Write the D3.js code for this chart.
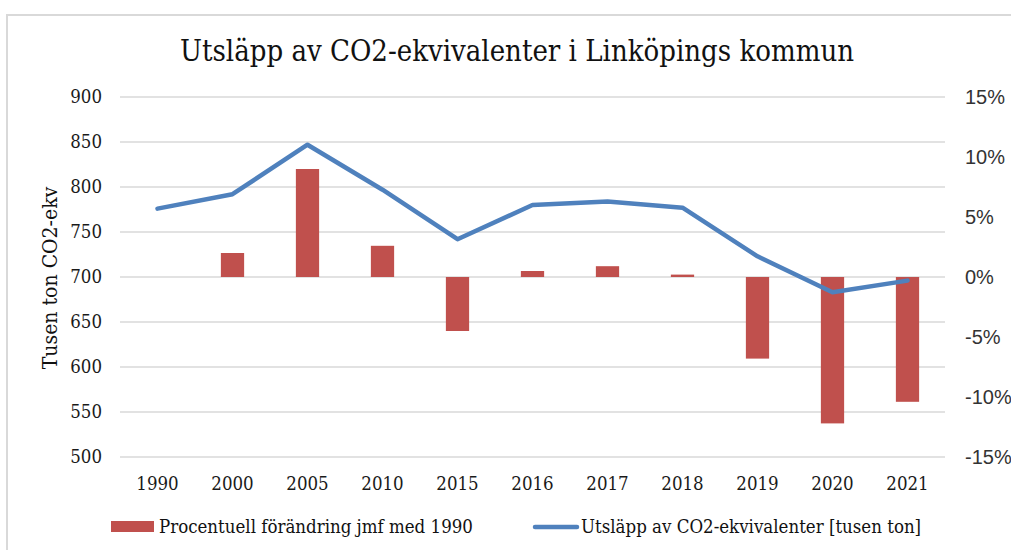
<!DOCTYPE html>
<html>
<head>
<meta charset="utf-8">
<script src="https://cdn.jsdelivr.net/npm/d3@7"></script>
<style>
  html, body { margin: 0; padding: 0; background: #fff; }
  svg { display: block; }
</style>
</head>
<body>
<svg id="chart" width="1011" height="550"></svg>
<script>
const years = ["1990","2000","2005","2010","2015","2016","2017","2018","2019","2020","2021"];
const emissions = [776, 792, 847, 797, 742, 780, 784, 777, 723, 683, 696];
const pctChange = [0, 2.0, 9.0, 2.6, -4.5, 0.5, 0.9, 0.2, -6.8, -12.2, -10.4];
const leftTicks = [500, 550, 600, 650, 700, 750, 800, 850, 900];
const rightTicks = [-15, -10, -5, 0, 5, 10, 15];
const titleText = "Utsläpp av CO2-ekvivalenter i Linköpings kommun";
const yTitle = "Tusen ton CO2-ekv";
const legendBar = "Procentuell förändring jmf med 1990";
const legendLine = "Utsläpp av CO2-ekvivalenter [tusen ton]";

const svg = d3.select("#chart");
const serif = "'DejaVu Serif Condensed', 'DejaVu Serif', serif";
const sans = "'Liberation Sans', Arial, sans-serif";

const m = {left: 120, right: 945, top: 97, bottom: 457};

// frame
svg.append("path")
  .attr("d", "M7,550 V15 H1011")
  .attr("fill", "none").attr("stroke", "#d9d9d9").attr("stroke-width", 2);

const x = d3.scaleBand().domain(years).range([m.left, m.right]).paddingInner(0.69).paddingOuter(0.345);
const yL = d3.scaleLinear().domain([500, 900]).range([m.bottom, m.top]);
const yR = d3.scaleLinear().domain([-15, 15]).range([m.bottom, m.top]);

// gridlines
svg.append("g").selectAll("line").data(leftTicks).join("line")
  .attr("x1", m.left).attr("x2", m.right)
  .attr("y1", d => yL(d)).attr("y2", d => yL(d))
  .attr("stroke", "#d9d9d9").attr("stroke-width", 1.3);

// left axis
const gl = svg.append("g").attr("transform", `translate(${m.left},0)`)
  .call(d3.axisLeft(yL).tickValues(leftTicks).tickSize(0).tickPadding(18));
gl.select(".domain").remove();
gl.selectAll("text").attr("font-family", serif).attr("font-size", 18.5).attr("fill", "#1a1a1a");

// right axis
const gr = svg.append("g").attr("transform", `translate(${m.right},0)`)
  .call(d3.axisRight(yR).tickValues(rightTicks).tickSize(0).tickPadding(20).tickFormat(d => d + "%"));
gr.select(".domain").remove();
gr.selectAll("text").attr("font-family", sans).attr("font-size", 20).attr("fill", "#333");

// x axis
const gx = svg.append("g").attr("transform", `translate(0,${m.bottom})`)
  .call(d3.axisBottom(x).tickSize(0).tickPadding(20));
gx.select(".domain").remove();
gx.selectAll("text").attr("font-family", serif).attr("font-size", 18.5).attr("fill", "#1a1a1a");

// bars
svg.append("g").selectAll("rect").data(years).join("rect")
  .attr("x", d => x(d))
  .attr("width", x.bandwidth())
  .attr("y", (d, i) => Math.min(yR(pctChange[i]), yR(0)))
  .attr("height", (d, i) => Math.abs(yR(pctChange[i]) - yR(0)))
  .attr("fill", "#c0504d");

// line
const line = d3.line().x((d, i) => x(years[i]) + x.bandwidth() / 2).y(d => yL(d));
svg.append("path").datum(emissions)
  .attr("d", line)
  .attr("fill", "none").attr("stroke", "#4f81bd").attr("stroke-width", 4.5)
  .attr("stroke-linejoin", "round").attr("stroke-linecap", "round");

// title
svg.append("text").attr("x", 517).attr("y", 61).attr("text-anchor", "middle")
  .attr("font-family", serif).attr("font-size", 29).attr("fill", "#111").text(titleText);

// y title
svg.append("text").attr("transform", "translate(57,278) rotate(-90)").attr("text-anchor", "middle")
  .attr("font-family", serif).attr("font-size", 21).attr("fill", "#111").text(yTitle);

// legend
svg.append("rect").attr("x", 111).attr("y", 521).attr("width", 43).attr("height", 11).attr("fill", "#c0504d");
svg.append("text").attr("x", 159).attr("y", 533).attr("font-family", serif).attr("font-size", 18.5).attr("fill", "#111").text(legendBar);
svg.append("line").attr("x1", 535).attr("x2", 577).attr("y1", 527).attr("y2", 527)
  .attr("stroke", "#4f81bd").attr("stroke-width", 4.5).attr("stroke-linecap", "round");
svg.append("text").attr("x", 581).attr("y", 533).attr("font-family", serif).attr("font-size", 18.5).attr("fill", "#111").text(legendLine);
</script>
</body>
</html>
